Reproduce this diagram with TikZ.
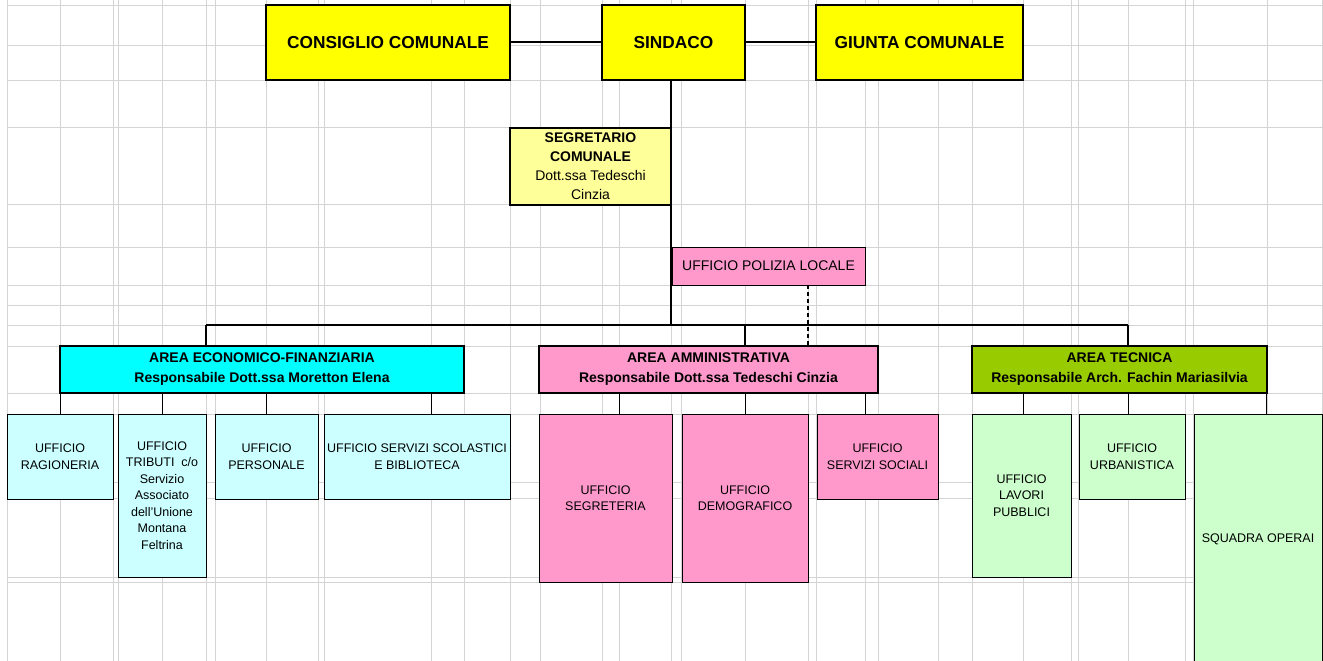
\documentclass[tikz,border=0pt]{standalone}
\usepackage{fontspec}
\setmainfont{Liberation Sans}
\definecolor{gridc}{HTML}{D4D4D4}
\definecolor{yel}{HTML}{FFFF00}
\definecolor{lyel}{HTML}{FFFF99}
\definecolor{pinkc}{HTML}{FF99CC}
\definecolor{cyanc}{HTML}{00FFFF}
\definecolor{lcyan}{HTML}{CCFFFF}
\definecolor{greenc}{HTML}{99CC00}
\definecolor{lgreen}{HTML}{CCFFCC}
\tikzset{
  gridl/.style={draw=gridc, line width=0.9pt},
  basebox/.style={draw=black, rectangle, inner sep=0pt, outer sep=0pt, align=center, text=black},
  topbox/.style={basebox, line width=2pt, fill=yel, font=\bfseries\fontsize{17.3}{20}\selectfont},
  areabox/.style={basebox, line width=2.2pt, font=\bfseries\fontsize{14}{20}\selectfont},
  subbox/.style={basebox, line width=1pt, font=\fontsize{12.5}{16.5}\selectfont},
  mainline/.style={draw=black, line width=2pt},
  subline/.style={draw=black, line width=1pt},
  dashline/.style={draw=black, line width=1.5pt, dash pattern=on 4pt off 3pt}
}
\begin{document}
\begin{tikzpicture}[x=1pt,y=-1pt]
\useasboundingbox (0,0) rectangle (1323,661);
\fill[white] (0,0) rectangle (1323,661);
% spreadsheet grid
\foreach \gx in {7,60,113,118,162,206,215,266,318,324,431,464,510,540,602,619,671,681,745,808,816,865,878,938,972,1023,1071,1078,1128,1185,1193,1267,1322}
  \draw[gridl] (\gx,0) -- (\gx,661);
\foreach \gy in {5,45,80,127,204,247,285,305,325,346,393,414,482,498,577,582}
  \draw[gridl] (7,\gy) -- (1323,\gy);

% top level
\node[topbox, minimum width=244pt, minimum height=75pt] (cons) at (388,42.5) {CONSIGLIO COMUNALE};
\node[topbox, minimum width=143pt, minimum height=75pt] (sind) at (673.5,42.5) {SINDACO};
\node[topbox, minimum width=207pt, minimum height=75pt] (giun) at (919.5,42.5) {GIUNTA COMUNALE};

\node[basebox, line width=1.6pt, fill=lyel, minimum width=161pt, minimum height=77pt, font=\fontsize{14}{19}\selectfont] (seg) at (590.5,166.5)
  {\textbf{SEGRETARIO}\\\textbf{COMUNALE}\\Dott.ssa Tedeschi\\Cinzia};
\node[basebox, line width=1pt, fill=pinkc, minimum width=193pt, minimum height=38pt, font=\fontsize{14}{18}\selectfont] (pol) at (768.5,266) {UFFICIO POLIZIA LOCALE};

% areas
\node[areabox, fill=cyanc, minimum width=404pt, minimum height=47pt] (eco) at (262,369.5)
  {AREA ECONOMICO-FINANZIARIA\\Responsabile Dott.ssa Moretton Elena};
\node[areabox, fill=pinkc, minimum width=339pt, minimum height=47pt] (amm) at (708.5,369.5)
  {AREA AMMINISTRATIVA\\Responsabile Dott.ssa Tedeschi Cinzia};
\node[areabox, fill=greenc, minimum width=295pt, minimum height=47pt] (tec) at (1119.5,369.5)
  {AREA TECNICA\\Responsabile Arch. Fachin Mariasilvia};

% offices
\node[subbox, fill=lcyan, minimum width=106pt, minimum height=85pt] (rag) at (60,456.5) {UFFICIO\\RAGIONERIA};
\node[subbox, fill=lcyan, minimum width=88pt, minimum height=163pt] (tri) at (162,495.5)
  {UFFICIO\\TRIBUTI\ \ c/o\\Servizio\\Associato\\dell'Unione\\Montana\\Feltrina};
\node[subbox, fill=lcyan, minimum width=103pt, minimum height=85pt] (per) at (266.5,456.5) {UFFICIO\\PERSONALE};
\node[subbox, fill=lcyan, minimum width=186pt, minimum height=85pt] (sco) at (417,456.5) {UFFICIO SERVIZI SCOLASTICI\\E BIBLIOTECA};

\node[subbox, fill=pinkc, minimum width=133pt, minimum height=168pt] (sgr) at (605.5,498) {UFFICIO\\SEGRETERIA};
\node[subbox, fill=pinkc, minimum width=126pt, minimum height=168pt] (dem) at (745,498) {UFFICIO\\DEMOGRAFICO};
\node[subbox, fill=pinkc, minimum width=121pt, minimum height=85pt] (soc) at (877.5,456.5) {UFFICIO\\SERVIZI SOCIALI};

\node[subbox, fill=lgreen, minimum width=99pt, minimum height=163pt] (lav) at (1021.5,495.5) {UFFICIO\\LAVORI\\PUBBLICI};
\node[subbox, fill=lgreen, minimum width=106pt, minimum height=85pt] (urb) at (1132,456.5) {UFFICIO\\URBANISTICA};
\node[subbox, fill=lgreen, minimum width=128pt, minimum height=250pt] (squ) at (1258,539) {SQUADRA OPERAI};

% connectors
\coordinate (busmid) at (671,325);
\coordinate (busleft) at (206,325);
\coordinate (busright) at (1128,325);
\coordinate (busamm) at (745,325);
\draw[mainline] (cons.east) -- (sind.west);
\draw[mainline] (sind.east) -- (giun.east -| giun.west);
\draw[mainline] (sind.south -| busmid) -- (busmid);
\draw[mainline] (busleft) -- (busright);
\draw[mainline] (busleft) -- (eco.north -| busleft);
\draw[mainline] (busamm) -- (amm.north -| busamm);
\draw[mainline] (busright) -- (tec.north -| busright);
\draw[dashline] (pol.south -| 808,0) -- (amm.north -| 808,0);

\draw[subline] (eco.south -| 60,0) -- (rag.north -| 60,0);
\draw[subline] (eco.south -| 162,0) -- (tri.north -| 162,0);
\draw[subline] (eco.south -| 266,0) -- (per.north -| 266,0);
\draw[subline] (eco.south -| 431,0) -- (sco.north -| 431,0);
\draw[subline] (amm.south -| 619,0) -- (sgr.north -| 619,0);
\draw[subline] (amm.south -| 745,0) -- (dem.north -| 745,0);
\draw[subline] (amm.south -| 865,0) -- (soc.north -| 865,0);
\draw[subline] (tec.south -| 1023,0) -- (lav.north -| 1023,0);
\draw[subline] (tec.south -| 1128,0) -- (urb.north -| 1128,0);
\draw[subline] (tec.south -| 1266,0) -- (squ.north -| 1266,0);
\end{tikzpicture}
\end{document}
